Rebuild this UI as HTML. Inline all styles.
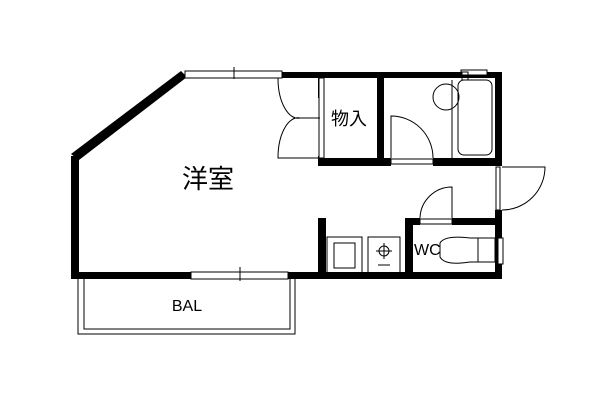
<!DOCTYPE html>
<html><head><meta charset="utf-8"><style>html,body{margin:0;padding:0;background:#fff}svg{display:block}</style></head><body>
<svg width="600" height="400" viewBox="0 0 600 400" xmlns="http://www.w3.org/2000/svg">
<g fill="#000">
<rect x="282" y="72" width="220" height="6"/>
<polygon points="181,71 187,77 79,160 71,154"/>
<rect x="71" y="156" width="8" height="123"/>
<rect x="71" y="272" width="121" height="7"/>
<rect x="288" y="272" width="214" height="7"/>
<rect x="318" y="78" width="3" height="20"/>
<rect x="318" y="156" width="4" height="10"/>
<rect x="318" y="218" width="8" height="60"/>
<rect x="377" y="78" width="7" height="88"/>
<rect x="318" y="158" width="73" height="8"/>
<rect x="433" y="158" width="69" height="8"/>
<rect x="495" y="72" width="7" height="94"/>
<rect x="495" y="210" width="7" height="68"/>
<rect x="405" y="218" width="15" height="7"/>
<rect x="452" y="218" width="50" height="7"/>
<rect x="405" y="218" width="8" height="60"/>
</g>
<g fill="#fff" stroke="#000" stroke-width="1">
<rect x="185" y="71" width="97" height="7"/>
<rect x="191" y="272" width="97" height="7"/>
<rect x="461" y="70" width="26" height="5"/>
<rect x="391" y="159" width="42" height="5"/>
<rect x="420" y="219" width="32" height="5"/>
<rect x="496" y="167" width="4" height="43"/>
<rect x="498" y="238" width="5" height="26"/>
<rect x="319" y="78" width="5" height="80"/>
</g>
<g fill="none" stroke="#000" stroke-width="1">
<line x1="234" y1="67" x2="234" y2="79"/>
<line x1="240" y1="267" x2="240" y2="281"/>
<path d="M78,279 V334 H295 V279"/>
<path d="M84,279 V329 H290 V279"/>
<path d="M320,118 H300 A20,40 0 0 1 278,78"/>
<path d="M320,118 H300 A20,40 0 0 0 278,158 H320"/>
<path d="M391,158 V116 A42,42 0 0 1 433,158"/>
<path d="M452,218 V187 A32,32 0 0 0 420,218"/>
<path d="M502,167 H545 A43,43 0 0 1 502,210"/>
<circle cx="446" cy="97" r="13"/>
<rect x="458" y="80" width="34" height="75" rx="6"/>
<line x1="452" y1="80" x2="452" y2="158"/>
<rect x="462" y="72" width="6" height="8"/>
<rect x="327" y="237" width="35" height="36"/>
<rect x="334" y="243" width="21" height="25"/>
<rect x="368" y="237" width="32" height="36"/>
<circle cx="384" cy="251" r="5"/>
<line x1="376" y1="251" x2="392" y2="251"/>
<line x1="384" y1="243" x2="384" y2="259"/>
<line x1="378" y1="265" x2="390" y2="265"/>
<path d="M440,243 Q445,235 470,238 H495 V262 H470 Q445,266 440,257 Z"/>
<line x1="478" y1="238" x2="478" y2="262"/>
</g>
<g font-family="'Liberation Sans','Noto Sans CJK JP',sans-serif" fill="#000">
<text x="208" y="188" font-size="26" text-anchor="middle">洋室</text>
<text x="349" y="125" font-size="18" text-anchor="middle">物入</text>
<text x="187" y="311" font-size="16" text-anchor="middle">BAL</text>
<text x="414" y="255" font-size="16">WC</text>
</g>
</svg>
</body></html>
